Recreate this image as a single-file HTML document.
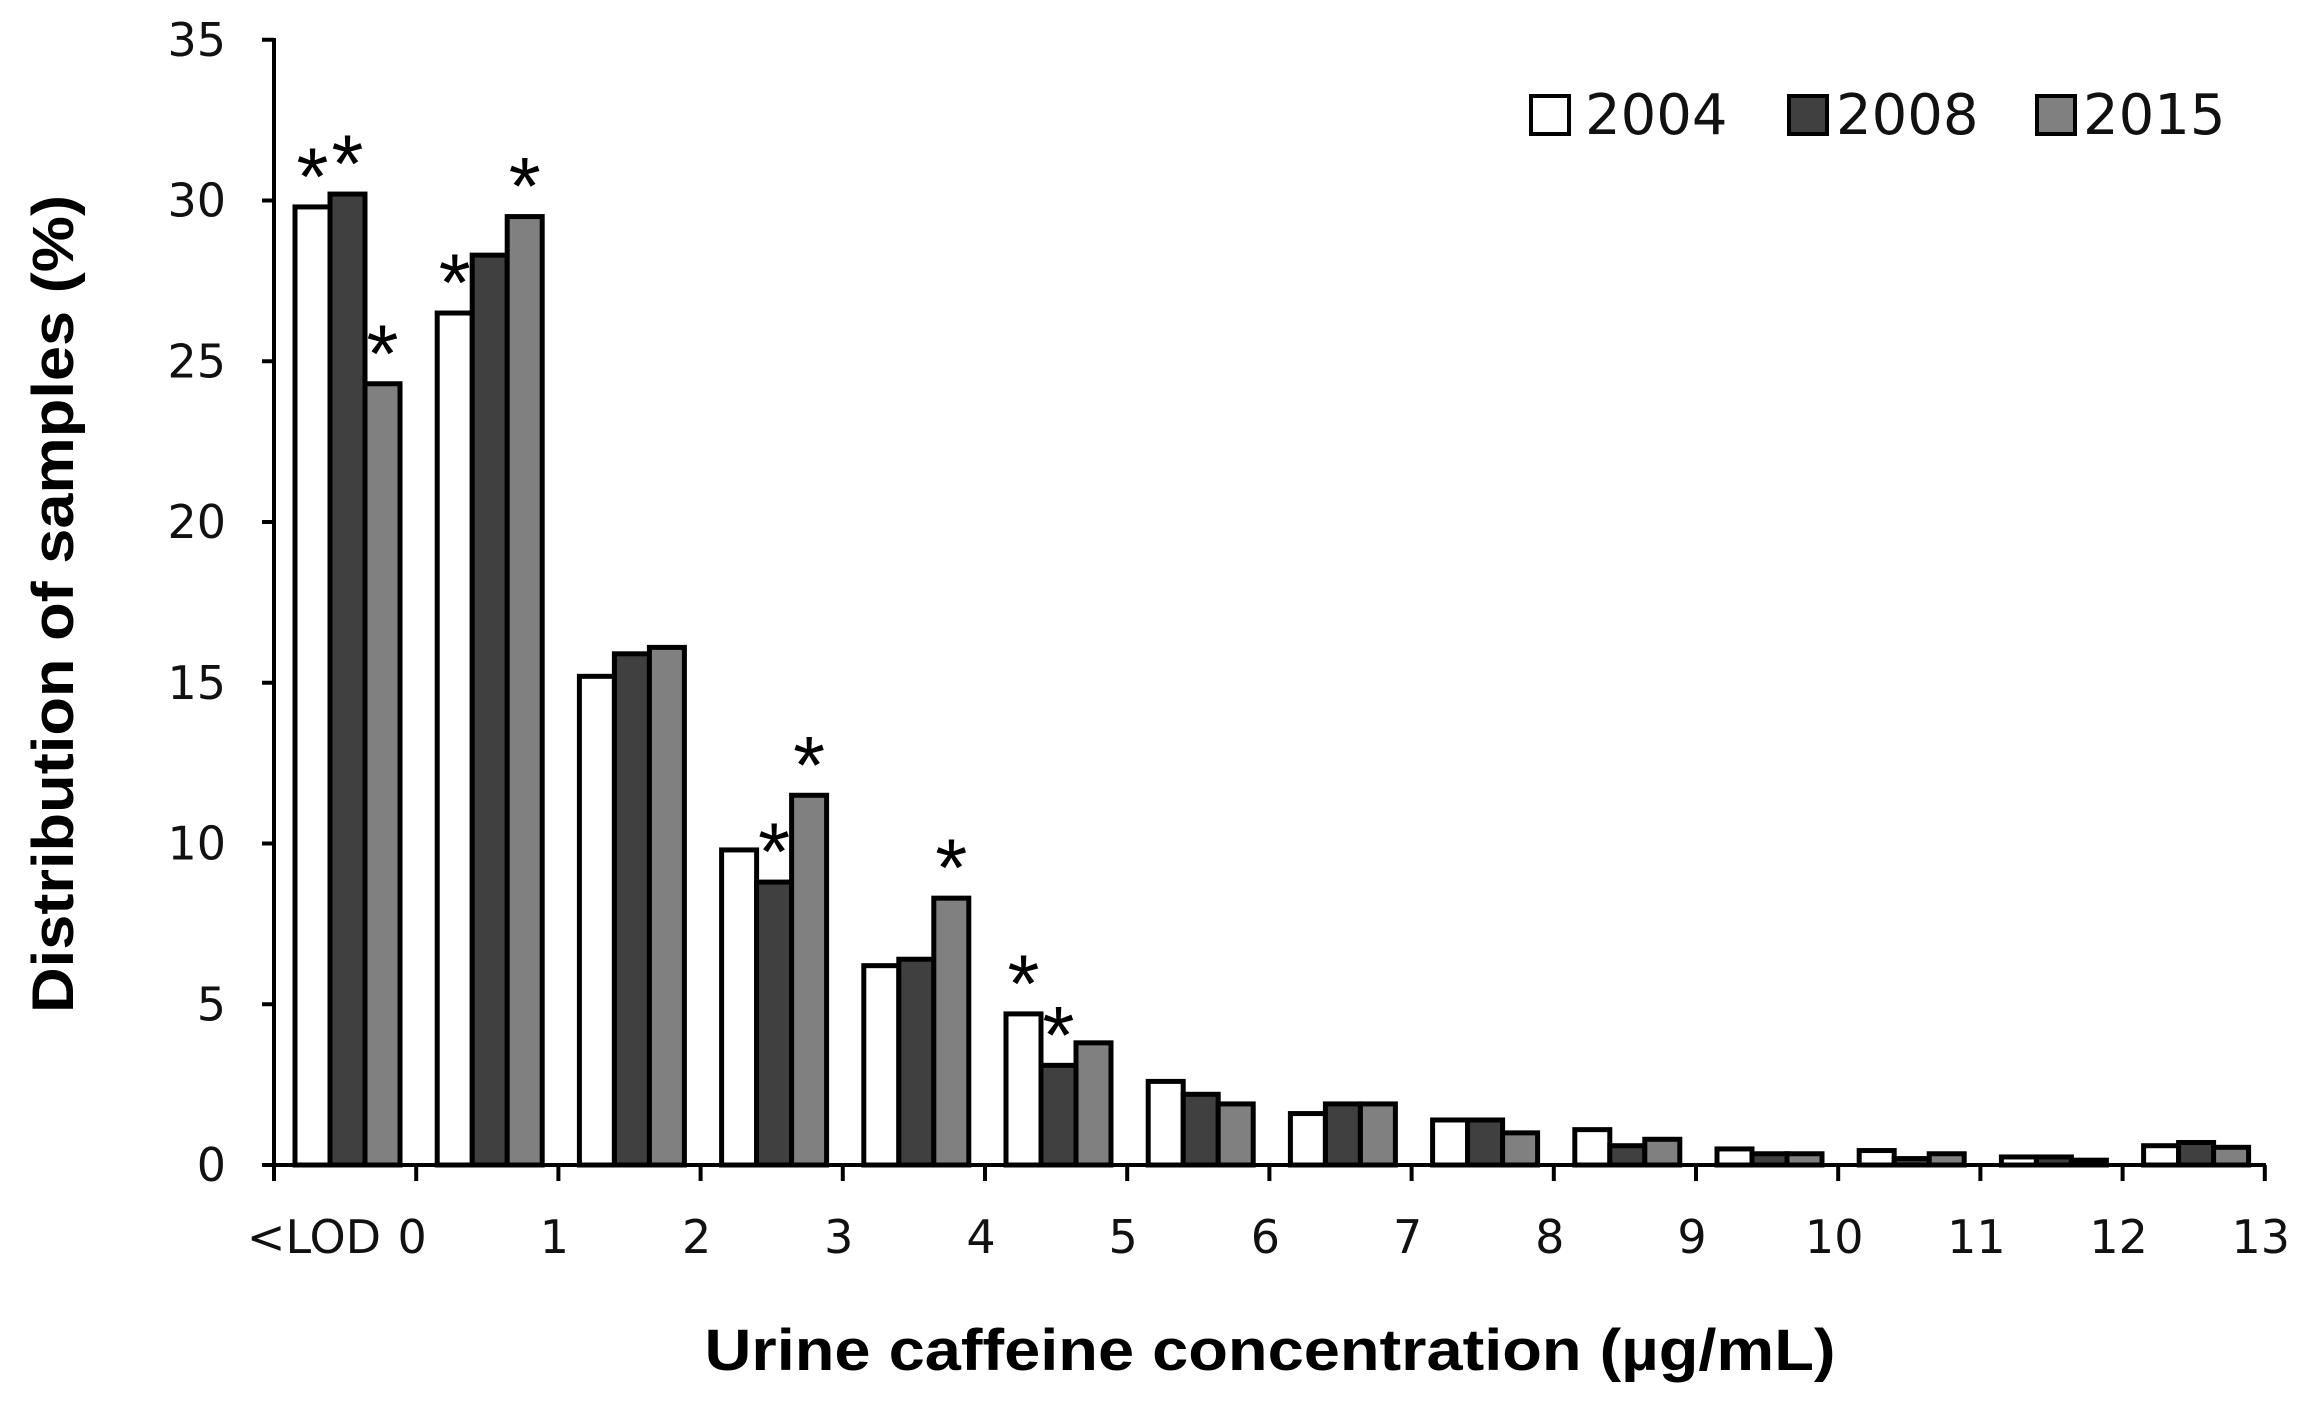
<!DOCTYPE html>
<html><head><meta charset="utf-8"><style>
html,body{margin:0;padding:0;background:#fff;width:2312px;height:1410px;overflow:hidden}
</style></head><body>
<svg width="2312" height="1410" viewBox="0 0 2312 1410" xmlns="http://www.w3.org/2000/svg" font-family="'DejaVu Sans', 'Liberation Sans', sans-serif">
<g id="bars" stroke="#000" stroke-width="5"></g>
<g stroke="#000" stroke-width="4" fill="none">
<line x1="274" y1="38" x2="274" y2="1167"/>
<line x1="272" y1="1165" x2="2266" y2="1165"/>
</g>
<g id="ticks" stroke="#000" stroke-width="4"></g>
<g id="ylab" font-size="46" text-anchor="end" fill="#111"></g>
<g id="xlab" font-size="46" text-anchor="middle" fill="#111"></g>
<g id="stars" font-size="82" text-anchor="middle" fill="#000" font-family="'Liberation Sans', sans-serif"></g>
<text x="73" y="604" font-size="58" font-weight="bold" text-anchor="middle" transform="rotate(-90 73 604)" font-family="'Liberation Sans', sans-serif" textLength="818" lengthAdjust="spacingAndGlyphs">Distribution of samples (%)</text>
<text x="1270" y="1370" font-size="58" font-weight="bold" text-anchor="middle" font-family="'Liberation Sans', sans-serif" textLength="1131" lengthAdjust="spacingAndGlyphs">Urine caffeine concentration (µg/mL)</text>
<g stroke="#000" stroke-width="4">
<rect x="1531" y="96" width="38" height="38" fill="#fff"/>
<rect x="1789" y="96" width="38" height="38" fill="#404040"/>
<rect x="2037" y="96" width="38" height="38" fill="#808080"/>
</g>
<g font-size="56" fill="#111">
<text x="1585" y="134">2004</text>
<text x="1836" y="134">2008</text>
<text x="2083" y="134">2015</text>
</g>
</svg>
<script>
const data=[[29.8,30.2,24.3],[26.5,28.3,29.5],[15.2,15.9,16.1],[9.8,8.8,11.5],[6.2,6.4,8.3],[4.7,3.1,3.8],[2.6,2.2,1.9],[1.6,1.9,1.9],[1.4,1.4,1.0],[1.1,0.6,0.8],[0.5,0.35,0.35],[0.45,0.2,0.35],[0.25,0.25,0.15],[0.6,0.7,0.55]];
const stars=[[0,0],[0,1],[0,2],[1,0],[1,2],[3,1],[3,2],[4,2],[5,0],[5,1]];
const fills=['#fff','#404040','#808080'];
const x0=274,y0=1165,sp=142.2,u=32.15,bw=35;
let b='',t='',yl='',xl='',st='';
data.forEach((g,i)=>{g.forEach((v,j)=>{const x=x0+i*sp+21+j*bw;const h=v*u;b+=`<rect x="${x}" y="${y0-h}" width="${bw}" height="${h}" fill="${fills[j]}"/>`;});});
for(let i=0;i<=14;i++){const x=x0+i*sp;t+=`<line x1="${x}" y1="${y0}" x2="${x}" y2="${y0+16}"/>`;}
for(let k=0;k<=7;k++){const y=y0-k*5*u;t+=`<line x1="262" y1="${y}" x2="274" y2="${y}"/>`;yl+=`<text x="226" y="${y+16}">${k*5}</text>`;}
xl+=`<text x="314" y="1253">&lt;LOD</text>`;
for(let i=1;i<=14;i++){xl+=`<text x="${x0+i*sp-4}" y="1253">${i-1}</text>`;}
stars.forEach(([i,j])=>{const x=x0+i*sp+21+j*bw+bw/2;const y=y0-data[i][j]*u;st+=`<text x="${x}" y="${y-2}">*</text>`;});
document.getElementById('bars').innerHTML=b;
document.getElementById('ticks').innerHTML=t;
document.getElementById('ylab').innerHTML=yl;
document.getElementById('xlab').innerHTML=xl;
document.getElementById('stars').innerHTML=st;
</script>
</body></html>
